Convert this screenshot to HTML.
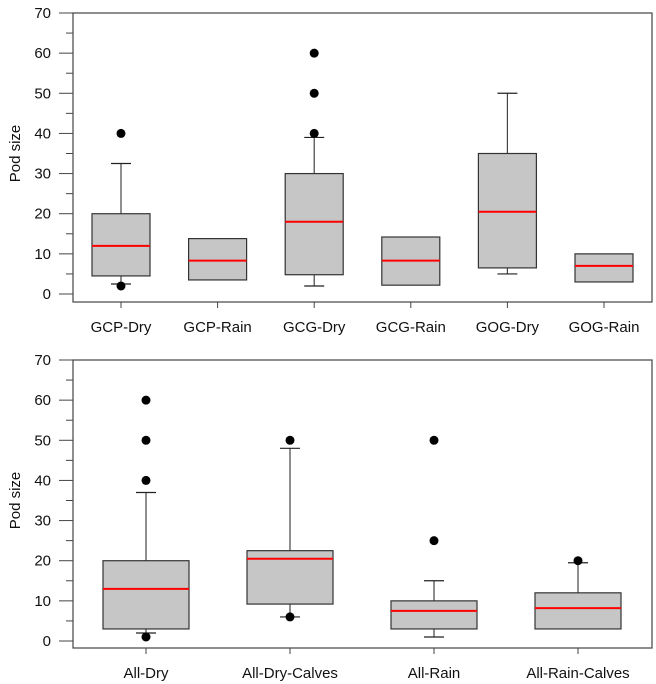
<!DOCTYPE html>
<html><head><meta charset="utf-8"><style>body{margin:0;background:#fff}svg{display:block;font-family:"Liberation Sans",sans-serif}</style></head>
<body>
<svg id="c" width="656" height="684" xmlns="http://www.w3.org/2000/svg"></svg>
<script>
const topCats=["GCP-Dry","GCP-Rain","GCG-Dry","GCG-Rain","GOG-Dry","GOG-Rain"];
const topQ1=[4.5,3.5,4.8,2.2,6.5,3];
const topMed=[12,8.3,18,8.3,20.5,7];
const topQ3=[20,13.8,30,14.2,35,10];
const topWLo=[2.5,null,2,null,5,null];
const topWHi=[32.5,null,39,null,50,null];
const topOut=[[40,2],[],[40,50,60],[],[],[]];
const botCats=["All-Dry","All-Dry-Calves","All-Rain","All-Rain-Calves"];
const botQ1=[3,9.2,3,3];
const botMed=[13,20.5,7.5,8.2];
const botQ3=[20,22.5,10,12];
const botWLo=[2,6,1,null];
const botWHi=[37,48,15,19.5];
const botOut=[[1,40,50,60],[6,50],[25,50],[20]];
const yTicks=[0,10,20,30,40,50,60,70];
const NS="http://www.w3.org/2000/svg",svg=document.getElementById('c');
function mk(t,a,p){const e=document.createElementNS(NS,t);for(const k in a)e.setAttribute(k,a[k]);(p||svg).appendChild(e);return e;}
function panel(name,top,bottom,y0,cats,q1,med,q3,wlo,whi,out,x0,step,bw){
  const g=mk('g',{});
  
  
  const left=73,right=652,y70=top;
  const y=v=>y0-(y0-y70)*v/70;
  const fr=mk('rect',{x:left,y:top,width:right-left,height:bottom-top,fill:'none',stroke:'#444','stroke-width':1.2},g);
  
  
  for(let v=0;v<=70;v+=5){const major=v%10===0;
    mk('line',{x1:major?59:66,x2:left,y1:y(v),y2:y(v),stroke:'#444','stroke-width':1},g);}
  yTicks.forEach(v=>{const t=mk('text',{x:51,y:y(v)+5,'text-anchor':'end','font-size':15,fill:'#111'},g);t.textContent=v;
    
    });
  const yl=mk('text',{x:0,y:0,transform:`translate(20,${(y0+y70)/2}) rotate(-90)`,'text-anchor':'middle','font-size':15,fill:'#111'},g);
  yl.textContent='Pod size';
  
  
  cats.forEach((c,i)=>{const cx=x0+i*step;
    const bg=mk('g',{},g);
    
    
    mk('line',{x1:cx,x2:cx,y1:bottom,y2:bottom+6,stroke:'#444'},bg);
    const t=mk('text',{x:cx,y:bottom+30,'text-anchor':'middle','font-size':15,fill:'#111'},bg);t.textContent=c;
    if(whi[i]!=null){mk('line',{x1:cx,x2:cx,y1:y(q3[i]),y2:y(whi[i]),stroke:'#444','stroke-width':1.2},bg);
      mk('line',{x1:cx-10,x2:cx+10,y1:y(whi[i]),y2:y(whi[i]),stroke:'#222','stroke-width':1.2},bg);}
    if(wlo[i]!=null){mk('line',{x1:cx,x2:cx,y1:y(q1[i]),y2:y(wlo[i]),stroke:'#444','stroke-width':1.2},bg);
      mk('line',{x1:cx-10,x2:cx+10,y1:y(wlo[i]),y2:y(wlo[i]),stroke:'#222','stroke-width':1.2},bg);}
    mk('rect',{x:cx-bw/2,y:y(q3[i]),width:bw,height:y(q1[i])-y(q3[i]),fill:'#c6c6c6',stroke:'#333','stroke-width':1.2},bg);
    mk('line',{x1:cx-bw/2,x2:cx+bw/2,y1:y(med[i]),y2:y(med[i]),stroke:'#ff0000','stroke-width':2},bg);
    out[i].forEach(v=>{const o=mk('circle',{cx:cx,cy:y(v),r:4.5,fill:'#000'},bg);
      
      });
  });
}
panel('top-panel',13,302,294,topCats,topQ1,topMed,topQ3,topWLo,topWHi,topOut,121,96.6,58);
panel('bottom-panel',360,648,641,botCats,botQ1,botMed,botQ3,botWLo,botWHi,botOut,146,144,86);
</script>
</body></html>
